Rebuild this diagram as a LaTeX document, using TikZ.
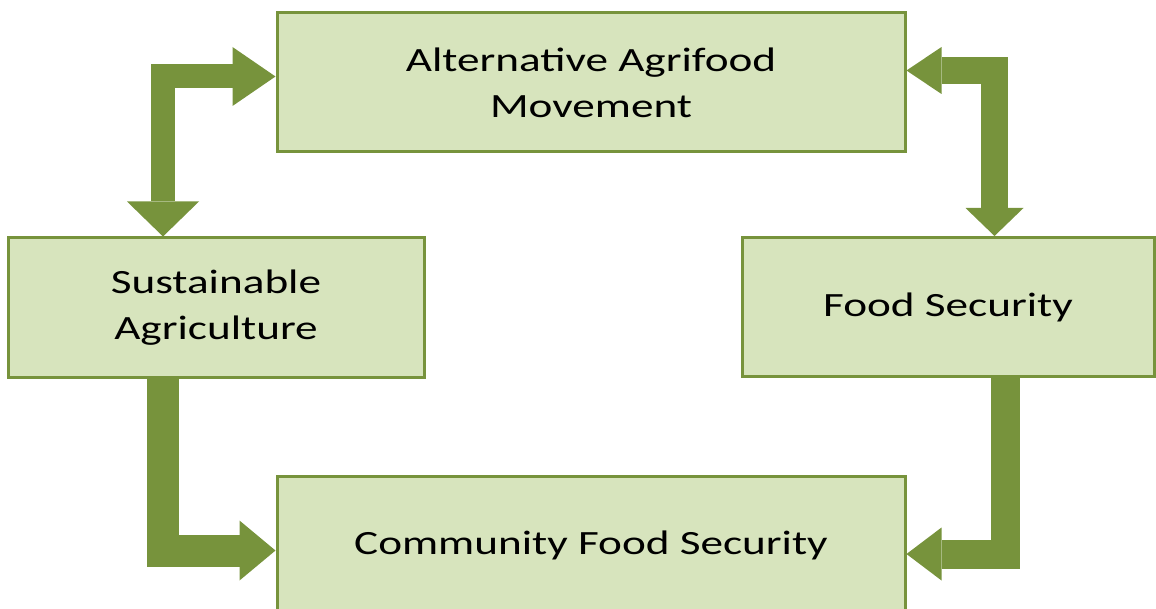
\documentclass[tikz,border=0pt]{standalone}
\usepackage{fontspec}
\setmainfont{Carlito}[FakeStretch=1.33]
\usetikzlibrary{arrows.meta, positioning}
\definecolor{boxfill}{HTML}{D7E4BD}
\definecolor{boxline}{HTML}{77933C}
\tikzset{
  topic/.style = {rectangle, draw=boxline, line width=1.5pt, fill=boxfill,
                  minimum height=69.5pt, align=center,
                  font=\fontsize{17}{23}\selectfont},
  bent/.style  = {draw=boxline, line join=miter},
}
\begin{document}
\begin{tikzpicture}[x=0.5pt, y=-0.5pt]
  \useasboundingbox (0,0) rectangle (1156,609);
  \node[topic, minimum width=314pt] (amove) at (591,82.5)  {Alternative Agrifood\\Movement};
  \node[topic, minimum width=208pt] (sagri) at (216,307.5) {Sustainable\\Agriculture};
  \node[topic, minimum width=206pt] (fsec)  at (948,307)   {Food Security};
  \node[topic, minimum width=314pt] (cfs)   at (591,545.5) {Community Food Security};

  % bent block arrows
  \draw[bent, line width=12pt,
        {Triangle[length=17.5pt, width=36pt, line width=0pt]}-{Triangle[length=21.5pt, width=29.5pt, line width=0pt]}]
    ([xshift=-26.5pt]sagri.north) |- ([yshift=3pt]amove.west);
  \draw[bent, line width=13.5pt,
        {Triangle[length=14pt, width=29pt, line width=0pt]}-{Triangle[length=17.5pt, width=23.5pt, line width=0pt]}]
    ([xshift=23.25pt]fsec.north) |- ([yshift=6pt]amove.east);
  \draw[bent, line width=16pt, -{Triangle[length=18pt, width=30pt, line width=0pt]}]
    ([xshift=-26.75pt]sagri.south) |- ([yshift=-2.5pt]cfs.west);
  \draw[bent, line width=14.5pt, -{Triangle[length=17.5pt, width=26.5pt, line width=0pt]}]
    ([xshift=28.5pt]fsec.south) |- ([yshift=-4.25pt]cfs.east);
\end{tikzpicture}
\end{document}
